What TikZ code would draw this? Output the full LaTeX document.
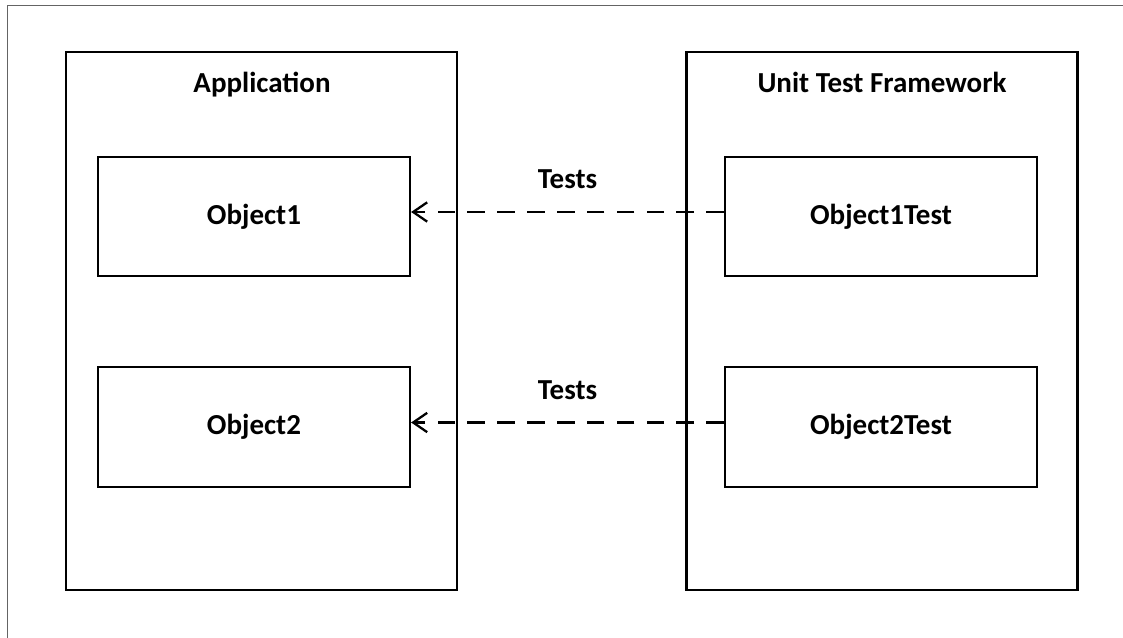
\documentclass[tikz,border=0pt]{standalone}
\usepackage{fontspec}
\setmainfont{Carlito}
\usetikzlibrary{arrows.meta}

\begin{document}
\begin{tikzpicture}[x=0.02cm, y=-0.02cm,
    font=\fontsize{16.5}{20}\selectfont\bfseries,
    group/.style={rectangle, draw, line width=1.4pt, minimum width=7.82cm, minimum height=10.76cm},
    object/.style={rectangle, draw, line width=1.3pt, minimum width=6.24cm, minimum height=2.39cm},
    tests/.style={draw, line width=1.4pt, dash pattern=on 10pt off 7pt, -{Straight Barb[length=8pt, width=11pt, line width=1.3pt]}}]
  \useasboundingbox (0, 0) rectangle (1123, 638);
  \draw[color={rgb,255:red,100;green,100;blue,100}, line width=1pt] (7.5, 638) -- (7.5, 5.5) -- (1123, 5.5);

  \node (app) [group] at (261.5, 321) {};
  \node (app-title) [anchor=base] at (262, 93) {Application};
  \node (utf) [group] at (882, 321) {};
  \node (utf-title) [anchor=base] at (882, 93) {Unit Test Framework};

  \node (obj1) [object] at (254, 216.5) {Object1};
  \node (obj2) [object] at (254, 427) {Object2};
  \node (obj1-test) [object] at (881, 216.5) {Object1Test};
  \node (obj2-test) [object] at (881, 427) {Object2Test};

  \draw[tests] ([yshift=0.09cm]obj1-test.west) to node[midway, above=9pt] {Tests} ([yshift=0.09cm]obj1.east);
  \draw[tests] ([yshift=0.09cm]obj2-test.west) to node[midway, above=9pt] {Tests} ([yshift=0.09cm]obj2.east);
\end{tikzpicture}
\end{document}
